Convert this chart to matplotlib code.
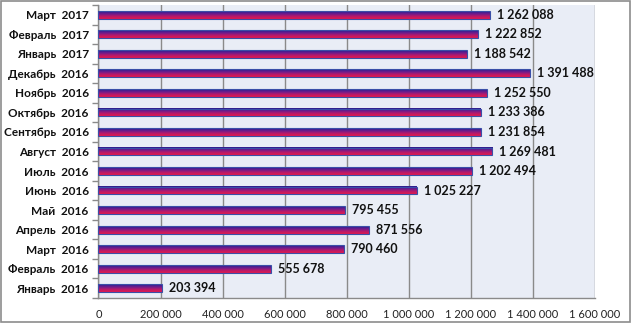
import numpy as np
import matplotlib
matplotlib.use("Agg")
import matplotlib.pyplot as plt
from matplotlib.colors import LinearSegmentedColormap
from matplotlib.patches import Rectangle
from matplotlib.ticker import FixedLocator, FuncFormatter

months = ["Январь  2016", "Февраль  2016", "Март  2016", "Апрель  2016", "Май  2016",
          "Июнь  2016", "Июль  2016", "Август  2016", "Сентябрь  2016", "Октябрь  2016",
          "Ноябрь  2016", "Декабрь  2016", "Январь  2017", "Февраль  2017", "Март  2017"]
values = [203394, 555678, 790460, 871556, 795455,
          1025227, 1202494, 1269481, 1231854, 1233386,
          1252550, 1391488, 1188542, 1222852, 1262088]
x_ticks = [0, 200000, 400000, 600000, 800000, 1000000, 1200000, 1400000, 1600000]

plt.rcParams['font.family'] = ['Lato', 'DejaVu Sans']

def fmt(v):
    return f"{int(v):,}".replace(",", " ")

fig = plt.figure(figsize=(6.31, 3.23), dpi=100)
fig.patch.set_facecolor("white")
ax = fig.add_axes([0.156, 0.0774, 0.787, 0.907])
ax.set_facecolor("#E9EDF6")

y = np.arange(len(months))
bars = ax.barh(y, values, height=0.4, color="none", edgecolor="#3A4FA8",
               linewidth=0.8, zorder=4)

# vertical gradient fill: navy at the top, purple in the middle, red at the bottom
cmap = LinearSegmentedColormap.from_list(
    "bar", ["#E3194C", "#B81A6A", "#6A1C8E", "#25208F"])
grad = np.linspace(0, 1, 64).reshape(-1, 1)
for b in bars:
    x0, y0, w, h = b.get_x(), b.get_y(), b.get_width(), b.get_height()
    ax.imshow(grad, cmap=cmap, aspect="auto", origin="lower",
              extent=(x0, x0 + w, y0, y0 + h), zorder=3, interpolation="bilinear")

for v, yi in zip(values, y):
    ax.annotate(fmt(v), (v, yi), xytext=(5, 0), textcoords="offset points",
                ha="left", va="center", fontsize=9, fontweight="bold",
                color="#111111", zorder=5)

ax.set_xlim(0, 1600000)
ax.set_ylim(-0.5, len(months) - 0.5)
ax.set_xticks(x_ticks)
ax.xaxis.set_major_formatter(FuncFormatter(lambda v, p: fmt(v)))
ax.tick_params(axis="x", length=0, pad=8, labelsize=8, labelcolor="#222222")
ax.grid(axis="x", color="#8A8A8A", linewidth=1.0, zorder=1)
ax.set_axisbelow(True)

ax.set_yticks(y)
ax.set_yticklabels(months, fontsize=8.5, fontweight="bold", color="#111111")
ax.yaxis.set_minor_locator(FixedLocator(np.arange(-0.5, len(months), 1.0)))
ax.tick_params(axis="y", which="major", length=0, pad=7)
ax.tick_params(axis="y", which="minor", length=4, width=1, color="#8A8A8A")

for s in ["top", "right"]:
    ax.spines[s].set_visible(False)
for s in ["left", "bottom"]:
    ax.spines[s].set_color("#8A8A8A")
    ax.spines[s].set_linewidth(1.0)

# outer chart frame
fig.patches.append(Rectangle((0.001, 0.002), 0.997, 0.995, transform=fig.transFigure,
                             fill=False, edgecolor="#8C8C8C", linewidth=1.2))

fig.savefig("out.png", dpi=100)
